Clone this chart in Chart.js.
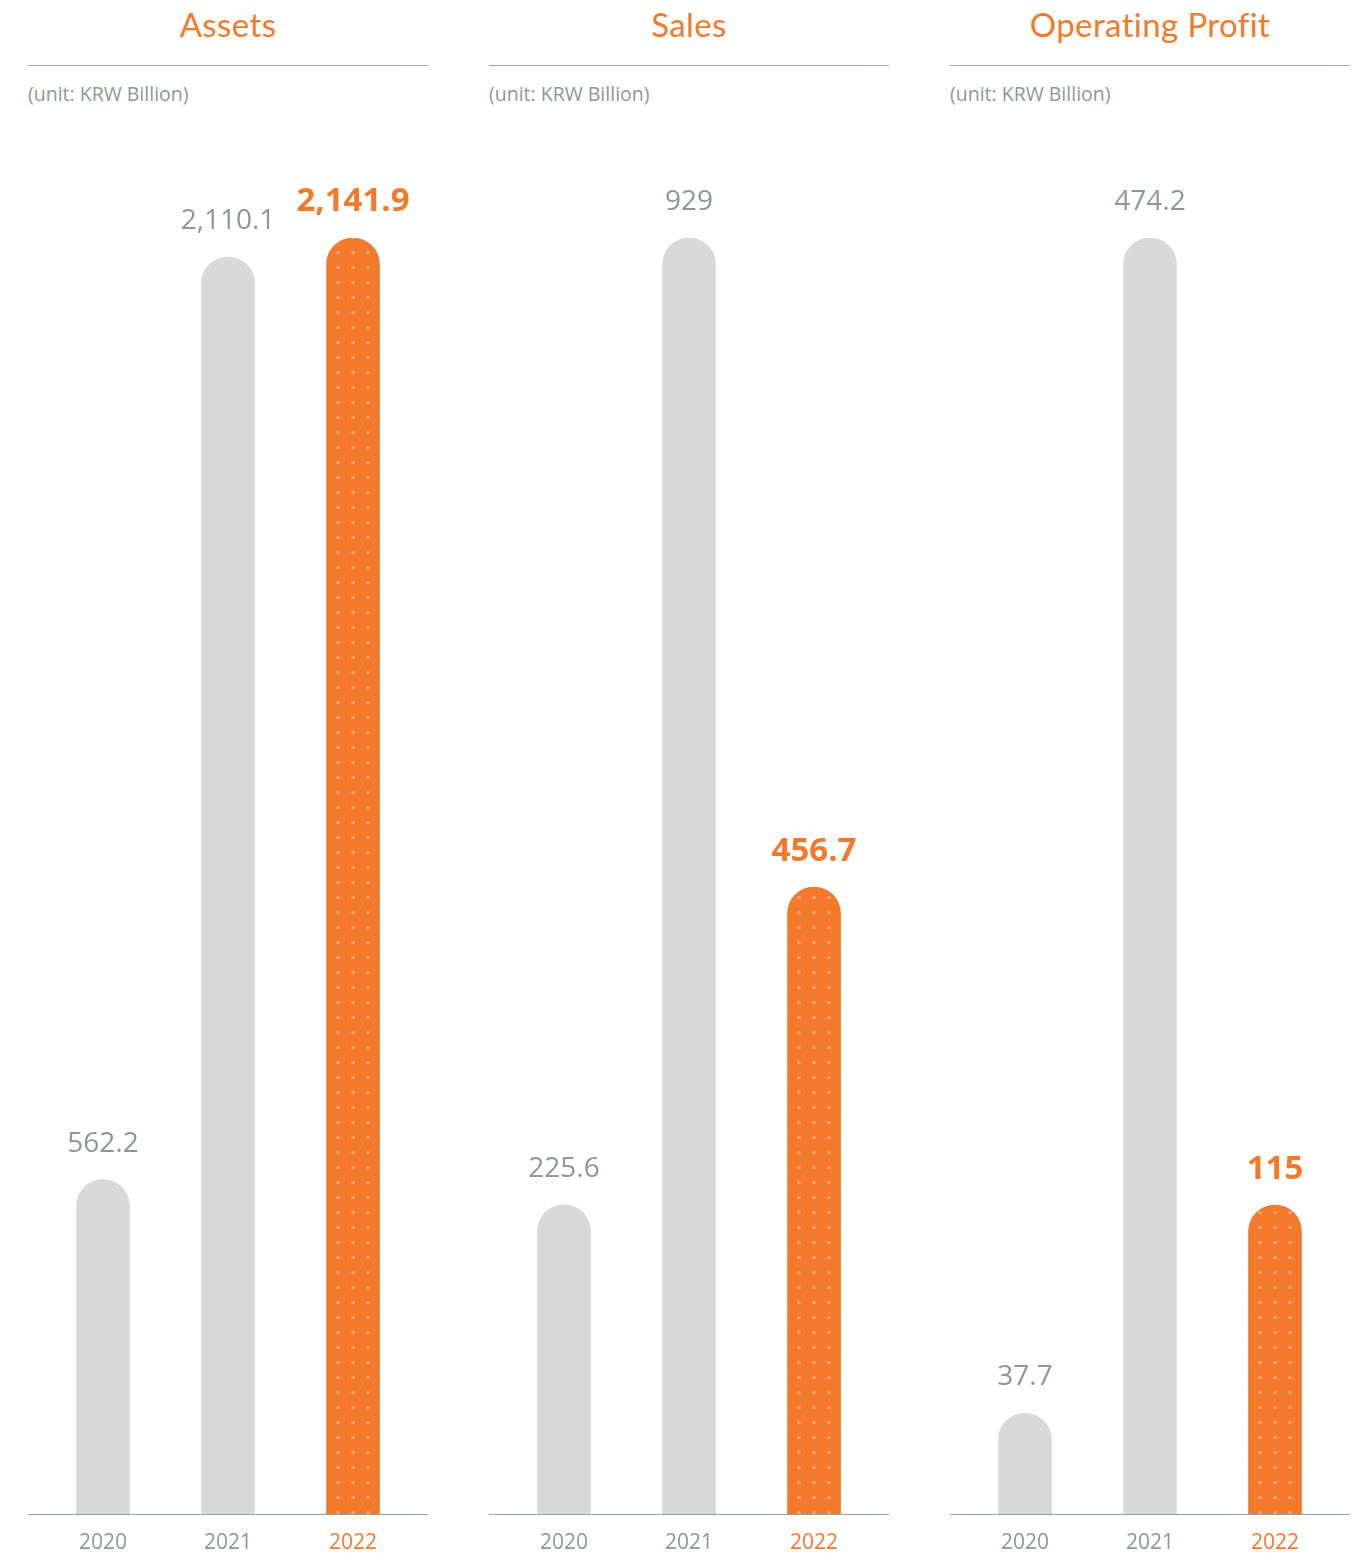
<!DOCTYPE html>
<html lang="en">
  <head>
    <meta charset="UTF-8" />
    <title>Assets, Sales, Operating Profit</title>
    <script src="https://cdn.jsdelivr.net/npm/chart.js"></script>
    <style>
      body {
        margin: 0;
        background: #fff;
        width: 1364px;
        height: 1554px;
        position: relative;
        overflow: hidden;
        font-family: "Open Sans", sans-serif;
      }
      .painel {
        position: absolute;
        top: 0;
        width: 400px;
        height: 1554px;
      }
      .titulo {
        position: absolute;
        top: 4px;
        width: 100%;
        text-align: center;
        color: #f47a2b;
        font-family: Lato, sans-serif;
        font-size: 33px;
        letter-spacing: 0.4px;
      }
      .linha {
        position: absolute;
        top: 65px;
        width: 100%;
        border-top: 1.5px solid #a3aba8;
      }
      .unidade {
        position: absolute;
        top: 80px;
        left: 0;
        color: #8f9793;
        font-size: 19.5px;
      }
      .base {
        position: absolute;
        top: 1514px;
        width: 100%;
        border-top: 1.5px solid #9aa29f;
        z-index: 2;
      }
      canvas {
        position: absolute;
        top: 0;
        left: 0;
      }
    </style>
  </head>
  <body>
    <div class="painel" style="left: 28px">
      <div class="titulo">Assets</div>
      <div class="linha"></div>
      <div class="unidade">(unit: KRW Billion)</div>
      <canvas id="chartAssets"></canvas>
      <div class="base"></div>
    </div>
    <div class="painel" style="left: 489px">
      <div class="titulo">Sales</div>
      <div class="linha"></div>
      <div class="unidade">(unit: KRW Billion)</div>
      <canvas id="chartSales"></canvas>
      <div class="base"></div>
    </div>
    <div class="painel" style="left: 950px">
      <div class="titulo">Operating Profit</div>
      <div class="linha"></div>
      <div class="unidade">(unit: KRW Billion)</div>
      <canvas id="chartProfit"></canvas>
      <div class="base"></div>
    </div>
  </body>
</html>

<script>
  var anos = ["2020", "2021", "2022"];
  var assets = [562.2, 2110.1, 2141.9];
  var sales = [225.6, 929, 456.7];
  var operatingProfit = [37.7, 474.2, 115];
  var rotulosAssets = ["562.2", "2,110.1", "2,141.9"];
  var rotulosSales = ["225.6", "929", "456.7"];
  var rotulosProfit = ["37.7", "474.2", "115"];

  var laranja = "#f47a2b";
  var cinza = "#d9d9d9";
  var cinzaTexto = "#8f9793";

  // padrão de pontinhos do ano destacado
  function criarPadrao(ctx, centroX) {
    var tile = document.createElement("canvas");
    tile.width = 15;
    tile.height = 15.5;
    var t = tile.getContext("2d");
    t.fillStyle = laranja;
    t.fillRect(0, 0, 15, 16);
    t.fillStyle = "#fab38a";
    t.beginPath();
    t.arc(7.5, 7.5, 1.5, 0, Math.PI * 2);
    t.fill();
    var padrao = ctx.createPattern(tile, "repeat");
    padrao.setTransform(new DOMMatrix().translate(centroX - 7.5, 5));
    return padrao;
  }

  // rótulos de valor acima das barras
  var rotulosPlugin = {
    id: "rotulos",
    afterDatasetsDraw(chart, args, opts) {
      var ctx = chart.ctx;
      var meta = chart.getDatasetMeta(0);
      ctx.save();
      ctx.textAlign = "center";
      ctx.textBaseline = "middle";
      meta.data.forEach(function (bar, i) {
        var destaque = i === anos.length - 1;
        ctx.fillStyle = destaque ? laranja : cinzaTexto;
        ctx.font = destaque
          ? "bold 33px 'Open Sans'"
          : "28px 'Open Sans'";
        ctx.fillText(opts.textos[i], bar.x, bar.y - 36);
      });
      ctx.restore();
    },
  };

  function desenhar(id, valores, textos) {
    var canvas = document.getElementById(id);
    canvas.width = 400;
    canvas.height = 1572;
    var ctx = canvas.getContext("2d");
    new Chart(canvas, {
      type: "bar",
      data: {
        labels: anos,
        datasets: [
          {
            data: valores,
            barThickness: 53,
            borderRadius: { topLeft: 26.5, topRight: 26.5 },
            borderSkipped: "bottom",
            backgroundColor: function (c) {
              if (c.dataIndex !== anos.length - 1) return cinza;
              var x = c.chart.scales.x
                ? c.chart.scales.x.getPixelForValue(c.dataIndex)
                : 325;
              return criarPadrao(ctx, x);
            },
          },
        ],
      },
      options: {
        responsive: false,
        animation: false,
        devicePixelRatio: 1,
        layout: {
          padding: { top: 238, left: 12.5, right: 12.5, bottom: 0 },
        },
        plugins: {
          legend: { display: false },
          tooltip: { enabled: false },
          rotulos: { textos: textos },
        },
        scales: {
          x: {
            grid: { display: false, drawTicks: false },
            border: { display: false },
            ticks: {
              padding: 16,
              font: { family: "'Open Sans'", size: 21 },
              color: function (c) {
                return c.index === anos.length - 1 ? laranja : cinzaTexto;
              },
            },
          },
          y: {
            display: false,
            min: 0,
            max: Math.max.apply(null, valores),
          },
        },
      },
      plugins: [rotulosPlugin],
    });
  }

  desenhar("chartAssets", assets, rotulosAssets);
  desenhar("chartSales", sales, rotulosSales);
  desenhar("chartProfit", operatingProfit, rotulosProfit);
</script>
